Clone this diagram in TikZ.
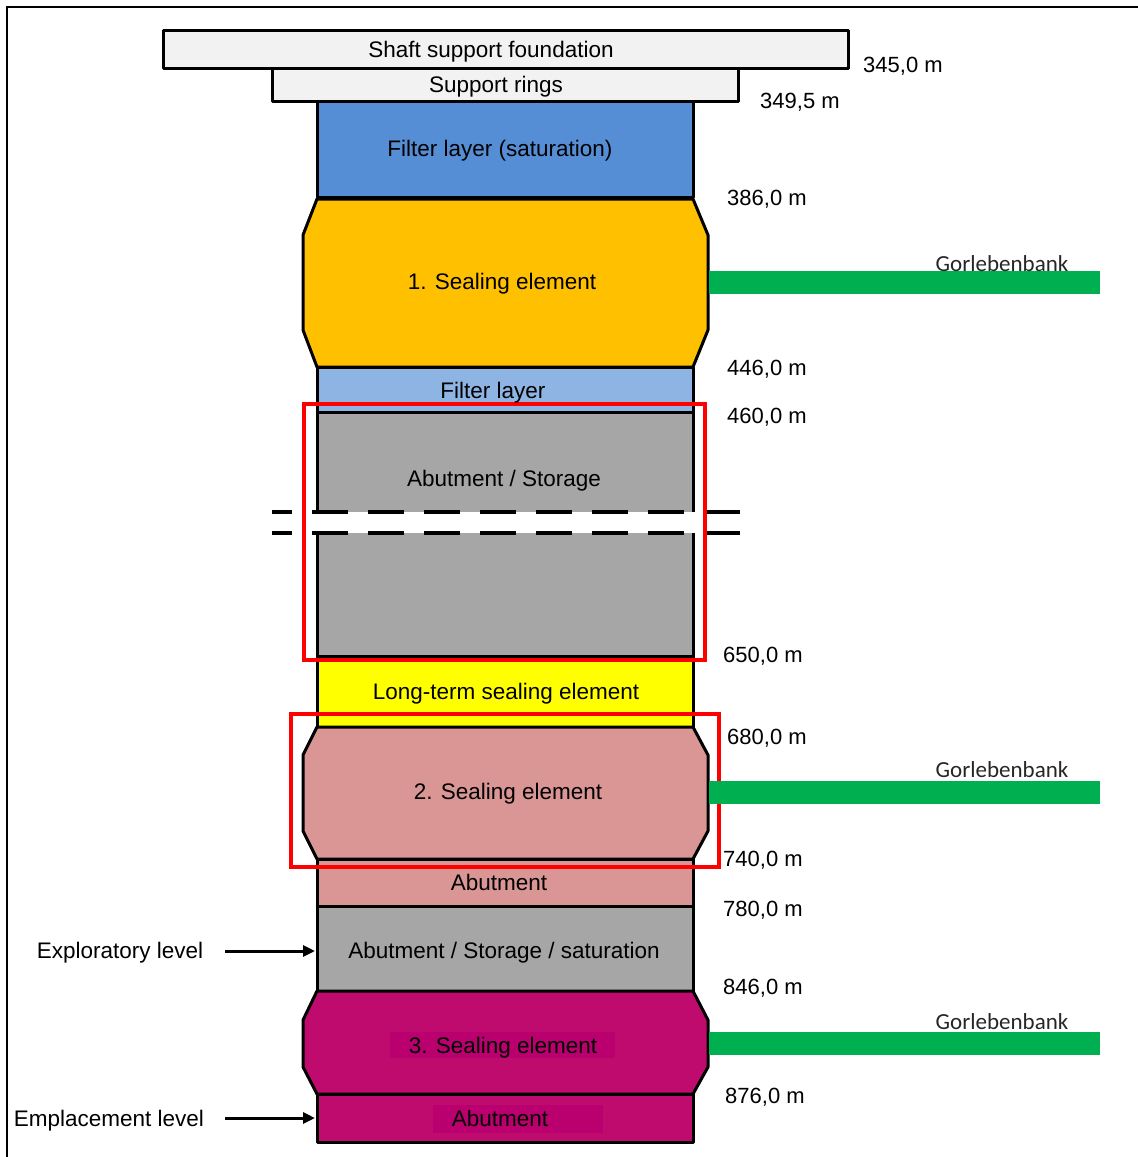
\documentclass[tikz,border=0pt]{standalone}
\usepackage{fontspec}
\setmainfont{Liberation Sans}
\newfontfamily\calfont{Carlito}
\usetikzlibrary{arrows.meta}

\definecolor{founda}{HTML}{F2F2F2}
\definecolor{filtsat}{HTML}{558ED5}
\definecolor{filtlay}{HTML}{8DB4E2}
\definecolor{seal1}{HTML}{FFC000}
\definecolor{rockgray}{HTML}{A6A6A6}
\definecolor{longterm}{HTML}{FFFF00}
\definecolor{seal2}{HTML}{D99694}
\definecolor{seal3}{HTML}{C00B6E}
\definecolor{seal3hl}{HTML}{B9006E}
\definecolor{bankgreen}{HTML}{00B050}

\tikzset{
  layer/.style={draw=black, line width=3pt, line join=round},
  lbl/.style={font=\fontsize{22.5}{26}\selectfont, inner sep=0pt, text height=16pt, text depth=4pt, yshift=-2pt},
  depth/.style={lbl, anchor=west, font=\fontsize{22}{26}\selectfont},
  bank/.style={font=\calfont\fontsize{23}{26}\selectfont, inner sep=0pt, text=black!85},
  bar/.style={fill=bankgreen, draw=none},
  marker/.style={draw=red, line width=3.2pt},
  pointer/.style={line width=3pt, -{Triangle[length=12pt,width=11pt]}},
  cut/.style={line width=4.5pt, dash pattern=on 36pt off 20pt, dash phase=16pt}
}

% octagonal sealing element: #1 top, #2 upper bend, #3 lower bend, #4 bottom
\newcommand{\sealshape}[5]{%
  \draw[layer, fill=#5] (317,#1) -- (693,#1) -- (708,#2) -- (708,#3) -- (693,#4)
    -- (317,#4) -- (303,#3) -- (303,#2) -- cycle;}

\begin{document}
\begin{tikzpicture}[x=1pt, y=-1pt]
\useasboundingbox (0,0) rectangle (1138,1157);

% frame
\draw[line width=2pt] (7,1157) -- (7,7) -- (1138,7);

% head of the shaft
\draw[layer, fill=founda] (163,30) rectangle (848,68);
\draw[layer, fill=founda] (272,68) rectangle (738,101);

% shaft column
\draw[layer, fill=filtsat] (317,101) rectangle (693,197);
\draw[layer, fill=filtlay] (317,367) rectangle (693,412);
\draw[layer, fill=rockgray] (317,412) rectangle (693,656);
\draw[layer, fill=longterm] (317,656) rectangle (693,727);
\draw[layer, fill=seal2] (317,859) rectangle (693,906);
\draw[layer, fill=rockgray] (317,906) rectangle (693,991);
\draw[layer, fill=seal3] (317,1094) rectangle (693,1142);

\sealshape{199}{235}{330}{367}{seal1}
\sealshape{727}{755}{831}{859}{seal2}
\sealshape{991}{1020}{1067}{1094}{seal3}

% highlight boxes behind the lowest labels
\fill[seal3hl] (390,1032) rectangle (615,1058);
\fill[seal3hl] (433,1105) rectangle (603,1133);

% interrupted section of the column
\fill[white] (305,512) rectangle (705,533);
\draw[cut] (272,512) -- (745,512);
\draw[cut] (272,533) -- (745,533);

% highlighted sections
\draw[marker] (304,404) rectangle (705,660);
\draw[marker] (291,714) rectangle (719,867);

% Gorlebenbank layers
\fill[bar] (709,271) rectangle (1100,294);
\fill[bar] (709,781) rectangle (1100,804);
\fill[bar] (709,1032) rectangle (1100,1055);
\node[bank] (gb1) at (1002,264) {Gorlebenbank};
\node[bank] (gb2) at (1002,770) {Gorlebenbank};
\node[bank] (gb3) at (1002,1022) {Gorlebenbank};

% layer labels
\node[lbl] (t1) at (491,49) {Shaft support foundation};
\node[lbl] (t2) at (496,84) {Support rings};
\node[lbl] (t3) at (500,148) {Filter layer (saturation)};
\node[lbl] (t4) at (502,281) {1. Sealing element};
\node[lbl] (t5) at (493,390) {Filter layer};
\node[lbl] (t6) at (504,478) {Abutment / Storage};
\node[lbl] (t7) at (506,691) {Long-term sealing element};
\node[lbl] (t8) at (508,791) {2. Sealing element};
\node[lbl] (t9) at (499,882) {Abutment};
\node[lbl] (t10) at (504,950) {Abutment / Storage / saturation};
\node[lbl] (t11) at (503,1045) {3. Sealing element};
\node[lbl] (t12) at (500,1118) {Abutment};

% depth marks
\node[depth] (d1) at (863,64) {345,0 m};
\node[depth] (d2) at (760,100) {349,5 m};
\node[depth] (d3) at (727,197) {386,0 m};
\node[depth] (d4) at (727,367) {446,0 m};
\node[depth] (d5) at (727,415) {460,0 m};
\node[depth] (d6) at (723,654) {650,0 m};
\node[depth] (d7) at (727,736) {680,0 m};
\node[depth] (d8) at (723,858) {740,0 m};
\node[depth] (d9) at (723,908) {780,0 m};
\node[depth] (d10) at (723,986) {846,0 m};
\node[depth] (d11) at (725,1095) {876,0 m};

% levels
\node[lbl] (explo) at (120,950) {Exploratory level};
\node[lbl] (empl) at (109,1118) {Emplacement level};
\coordinate (exploin) at (315,951);
\coordinate (emplin) at (315,1118);
\draw[pointer] (225,951) -- (exploin);
\draw[pointer] (225,1118) -- (emplin);
\end{tikzpicture}
\end{document}
